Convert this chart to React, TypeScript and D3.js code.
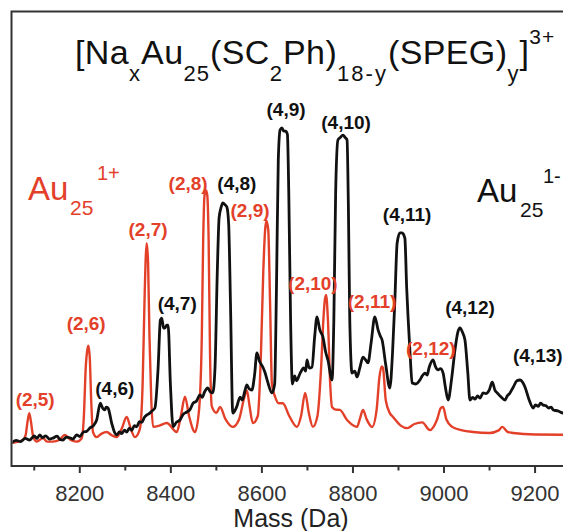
import React from "react";
import * as d3 from "d3";

const width = 563;
const height = 531;

// x axis
const majorTicks = [8200, 8400, 8600, 8800, 9000, 9200];
const minorTicks = [8100, 8300, 8500, 8700, 8900, 9100];

// Au25 1+ trace: [mass (Da), intensity]
const redTrace: [number, number][] = [
  [8050, 1.6], [8075, 2.5], [8081, 4], [8085, 8], [8089, 10.9], [8093, 8], [8097, 4], [8105, 2],
  [8112, 2.5], [8119, 3.1], [8128, 2], [8141, 2], [8155, 2.5], [8167, 4.1], [8180, 2.5], [8193, 2],
  [8204, 3], [8209, 10], [8213, 25], [8217, 31], [8219, 32], [8222, 28], [8225, 15], [8229, 5],
  [8237, 3.4], [8248, 4.5], [8259, 5], [8270, 4], [8281, 3.4], [8292, 6], [8303, 9.7], [8312, 6],
  [8321, 3.4], [8332, 6], [8338, 20], [8342, 45], [8345, 60], [8347, 64], [8350, 58], [8353, 35],
  [8357, 15], [8361, 6.6], [8375, 7], [8391, 7.8], [8413, 5], [8422, 10], [8431, 16], [8440, 10],
  [8453, 5], [8462, 12], [8468, 35], [8471, 65], [8474, 79], [8477, 80.6], [8480, 79], [8483, 65],
  [8486, 30], [8490, 13], [8500, 11], [8508, 12.8], [8520, 9], [8536, 6.6], [8550, 9], [8560, 15],
  [8567, 18], [8573, 13], [8580, 7.8], [8591, 10], [8598, 30], [8603, 55], [8607, 68], [8610, 71],
  [8614, 68], [8618, 45], [8622, 20], [8629, 16], [8637, 14], [8646, 14], [8660, 10], [8677, 6.6],
  [8686, 10], [8695, 17.2], [8703, 11], [8712, 6.6], [8722, 10], [8730, 25], [8735, 40], [8738, 46],
  [8741, 47.8], [8745, 40], [8750, 20], [8754, 12.8], [8762, 12], [8771, 11.9], [8787, 8.75], [8809, 6.6],
  [8815, 9], [8822, 11.9], [8830, 9], [8842, 6.6], [8852, 12], [8858, 22], [8863, 25.5], [8866, 25],
  [8872, 15], [8881, 10.9], [8888, 9.7], [8905, 7], [8919, 6.2], [8935, 7.5], [8952, 8], [8969, 5.6],
  [8985, 9], [8993, 12.5], [8998, 12.8], [9005, 9], [9018, 6.6], [9040, 5.5], [9064, 5], [9100, 4.7],
  [9120, 5.5], [9128, 6.6], [9140, 5], [9152, 4.7], [9200, 4.2], [9300, 4.1],
];

// Au25 1- trace
const blackTrace: [number, number][] = [
  [8050, 1.6], [8060, 2.4], [8070, 2], [8080, 3], [8090, 2.5], [8100, 3.8], [8106, 3], [8112, 4.1],
  [8118, 3.2], [8125, 3.8], [8133, 2.8], [8141, 3.1], [8150, 3.7], [8157, 2.6], [8163, 2.5], [8170, 3.4],
  [8178, 3.2], [8185, 2.8], [8193, 4.1], [8200, 3.6], [8208, 5], [8215, 5.2], [8222, 6.25], [8230, 7],
  [8237, 8.75], [8245, 14], [8250, 12.5], [8255, 11.9], [8258, 12.8], [8262, 12.5], [8270, 7.8], [8276, 5],
  [8281, 4.1], [8287, 5], [8292, 4.5], [8298, 5.6], [8303, 5], [8309, 6.2], [8314, 5.5], [8320, 7],
  [8325, 6.6], [8331, 8.2], [8336, 8], [8342, 9.6], [8347, 10.3], [8353, 10.8], [8358, 11.5], [8365, 12.5],
  [8372, 25], [8377, 40], [8380, 40.6], [8384, 37.5], [8387, 37.5], [8391, 38.4], [8394, 38.4], [8399, 20],
  [8405, 6.6], [8412, 8], [8420, 8.75], [8427, 10.5], [8435, 11.25], [8442, 12], [8449, 14], [8456, 14.6],
  [8464, 16.6], [8469, 15.8], [8474, 17.5], [8481, 18.75], [8487, 17.5], [8492, 17.2], [8497, 25], [8502, 55],
  [8506, 72], [8510, 75], [8514, 76.6], [8519, 76], [8523, 75.3], [8527, 70], [8531, 45], [8536, 10.9],
  [8545, 13], [8552, 15.9], [8557, 15], [8562, 17.5], [8567, 19.7], [8572, 18.5], [8578, 18.1], [8584, 23],
  [8589, 29.7], [8595, 27], [8602, 25.3], [8607, 23.5], [8612, 21], [8622, 17.2], [8628, 20], [8632, 50],
  [8636, 90], [8640, 99.4], [8644, 100], [8648, 99], [8652, 99], [8656, 98], [8659, 80], [8663, 40],
  [8667, 20], [8672, 22.5], [8676, 21], [8684, 23.4], [8692, 25], [8696, 24], [8699, 27.5], [8704, 25],
  [8710, 25.3], [8716, 35], [8721, 41], [8727, 37], [8734, 34.7], [8740, 30], [8745, 27.5], [8754, 21.25],
  [8758, 40], [8762, 80], [8767, 96.25], [8772, 97], [8778, 97.8], [8783, 97], [8787, 96.25], [8790, 75],
  [8793, 40], [8798, 23.4], [8804, 24], [8809, 22.2], [8815, 25], [8822, 28.4], [8828, 27.5], [8833, 26.6],
  [8840, 33], [8848, 41], [8855, 37], [8860, 35], [8864, 33.75], [8872, 26], [8881, 18.75], [8887, 30],
  [8892, 46], [8897, 64], [8903, 67.2], [8908, 67.2], [8914, 65.6], [8918, 50], [8921, 41], [8926, 28],
  [8930, 20.3], [8938, 20], [8947, 21.25], [8952, 22.5], [8958, 23.4], [8963, 22.8], [8967, 25], [8976, 27.5],
  [8981, 25.5], [8987, 24.4], [8992, 24.8], [8998, 23.4], [9003, 19], [9009, 15], [9017, 22], [9024, 30.6],
  [9030, 36], [9035, 37.5], [9041, 36], [9046, 33.75], [9052, 24], [9057, 15], [9063, 15.8], [9068, 15.3],
  [9074, 16.3], [9079, 15.6], [9086, 17.2], [9092, 17], [9099, 18], [9106, 20.6], [9112, 18], [9117, 17.2],
  [9125, 16], [9134, 15], [9139, 16.3], [9144, 17], [9152, 19], [9160, 21], [9167, 21.25], [9173, 20.5],
  [9178, 19], [9187, 15], [9196, 12.5], [9201, 13.5], [9207, 13], [9212, 14], [9218, 13.4], [9224, 13.2],
  [9230, 12.5], [9235, 12.8], [9240, 11.9], [9250, 11.6], [9262, 10.9], [9300, 10.5],
];

// peak labels (x, y) in (mass, intensity)
const redLabels = ["(2,5)", "(2,6)", "(2,7)", "(2,8)", "(2,9)", "(2,10)", "(2,11)", "(2,12)"];
const redLabelMass = [8102, 8214, 8350, 8438, 8574, 8712, 8842, 8971];
const redLabelLevel = [13.1, 36.9, 66.3, 80.6, 72.2, 49.4, 43.8, 29.1];

const blackLabels = ["(4,6)", "(4,7)", "(4,8)", "(4,9)", "(4,10)", "(4,11)", "(4,12)", "(4,13)"];
const blackLabelMass = [8277, 8414, 8545, 8653, 8785, 8919, 9057, 9206];
const blackLabelLevel = [16.6, 43.1, 80.6, 103.8, 99.7, 70.9, 41.9, 26.9];

const RED = "#e3402a";
const INK = "#111";
const FONT = "'Liberation Sans', Arial, sans-serif";

const App = () => {
  const x = d3.scaleLinear().domain([8050, 9300]).range([11.5, 580.6]);
  const y = d3.scaleLinear().domain([0, 100]).range([448, 128]);
  const axisY = 466;

  const line = d3
    .line<[number, number]>()
    .x((d) => x(d[0]))
    .y((d) => y(d[1]))
    .curve(d3.curveMonotoneX);

  // title pieces flow one after the other
  const main = { y: 64, fontSize: 34, letterSpacing: 0.4 };
  const sub = { y: 81, fontSize: 22, letterSpacing: 1 };
  const sup = { y: 44, fontSize: 21, letterSpacing: 1 };

  return (
    <svg
      width={width}
      height={height}
      viewBox={`0 0 ${width} ${height}`}
      style={{ position: "absolute", left: 0, top: 0, background: "#fff" }}
      fontFamily={FONT}
    >
      <defs>
        <clipPath id="plot">
          <rect x={12.5} y={12.5} width={570} height={axisY - 13.5} />
        </clipPath>
      </defs>

      {/* traces */}
      <g clipPath="url(#plot)">
        <path d={line(redTrace) ?? ""} fill="none" stroke={RED} strokeWidth={2.4} strokeLinejoin="round" />
        <path d={line(blackTrace) ?? ""} fill="none" stroke={INK} strokeWidth={2.8} strokeLinejoin="round" />
      </g>

      {/* frame */}
      <path
        d={`M${width + 20},11.5 H11.5 V${axisY} H${width + 20}`}
        fill="none"
        stroke="#333"
        strokeWidth={2}
      />

      {/* ticks */}
      {majorTicks.map((t) => (
        <g key={t}>
          <line x1={x(t)} x2={x(t)} y1={axisY} y2={axisY + 7} stroke="#333" strokeWidth={2} />
          <text x={x(t)} y={500.5} textAnchor="middle" fontSize={22} fill="#333">
            {t}
          </text>
        </g>
      ))}
      {minorTicks.map((t) => (
        <line key={t} x1={x(t)} x2={x(t)} y1={axisY} y2={axisY + 4.5} stroke="#333" strokeWidth={2} />
      ))}
      <text x={291} y={527} textAnchor="middle" fontSize={25} fill="#222">
        Mass (Da)
      </text>

      {/* title formula */}
      <text x={75} fill="#111">
        <tspan {...main}>[Na</tspan>
        <tspan {...sub}>x</tspan>
        <tspan {...main}>Au</tspan>
        <tspan {...sub}>25</tspan>
        <tspan {...main}>(SC</tspan>
        <tspan {...sub}>2</tspan>
        <tspan {...main}>Ph)</tspan>
        <tspan {...sub} letterSpacing={2}>18-y</tspan>
        <tspan {...main}>(SPEG)</tspan>
        <tspan {...sub}>y</tspan>
        <tspan {...main}>]</tspan>
        <tspan {...sup}>3+</tspan>
      </text>

      {/* series names */}
      <text fill={RED}>
        <tspan x={28} y={200} fontSize={33}>Au</tspan>
        <tspan x={70} y={215} fontSize={21}>25</tspan>
        <tspan x={97} y={180} fontSize={20}>1+</tspan>
      </text>
      <text fill={INK}>
        <tspan x={477} y={202} fontSize={33}>Au</tspan>
        <tspan x={520} y={217} fontSize={21}>25</tspan>
        <tspan x={543} y={183} fontSize={20}>1-</tspan>
      </text>

      {/* peak labels */}
      {redLabels.map((t, i) => (
        <text key={t} x={x(redLabelMass[i])} y={y(redLabelLevel[i])} textAnchor="middle" fontSize={19} fontWeight={700} fill={RED}>
          {t}
        </text>
      ))}
      {blackLabels.map((t, i) => (
        <text key={t} x={x(blackLabelMass[i])} y={y(blackLabelLevel[i])} textAnchor="middle" fontSize={19} fontWeight={700} fill={INK}>
          {t}
        </text>
      ))}
    </svg>
  );
};

export default App;
